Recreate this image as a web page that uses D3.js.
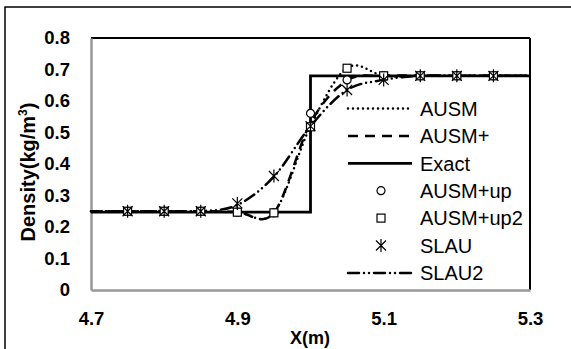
<!DOCTYPE html>
<html><head><meta charset="utf-8">
<script src="https://cdn.jsdelivr.net/npm/d3@7"></script>
<style>body{margin:0;background:#fff}svg{display:block}</style>
</head><body>
<svg id="c" width="571" height="349"></svg>
<script>
const xLine = [4.7,4.75,4.8,4.85,4.9,4.95,5.0,5.05,5.1,5.15,5.2,5.25,5.3];
const ausm      = [0.25,0.25,0.25,0.25,0.247,0.245,0.52,0.705,0.68,0.68,0.68,0.68,0.68];
const ausmPlus  = [0.25,0.25,0.25,0.25,0.248,0.245,0.53,0.665,0.68,0.68,0.68,0.68,0.68];
const slau2     = [0.25,0.25,0.25,0.25,0.27,0.36,0.52,0.635,0.667,0.68,0.68,0.68,0.68];
const xExact = [4.7,5.0,5.0,5.3];
const exact  = [0.247,0.247,0.68,0.68];
const xMark = [4.75,4.8,4.85,4.9,4.95,5.0,5.05,5.1,5.15,5.2,5.25];
const ausmUp  = [0.25,0.25,0.25,0.247,0.245,0.561,0.667,0.68,0.68,0.68,0.68];
const ausmUp2 = [0.25,0.25,0.25,0.247,0.245,0.518,0.704,0.68,0.68,0.68,0.68];
const slau    = [0.25,0.25,0.25,0.275,0.362,0.52,0.635,0.667,0.68,0.68,0.68];
const xTicks = [4.7,4.9,5.1,5.3];
const yTicks = [0,0.1,0.2,0.3,0.4,0.5,0.6,0.7,0.8];
const legendNames = ["AUSM","AUSM+","Exact","AUSM+up","AUSM+up2","SLAU","SLAU2"];

const svg = d3.select("#c");
const L=91,R=530,T=38,B=290;
const x = d3.scaleLinear().domain([4.7,5.3]).range([L,R]);
const y = d3.scaleLinear().domain([0,0.8]).range([B,T]);
const font = "'Liberation Sans', Arial, sans-serif";

svg.append("rect").attr("x",5).attr("y",7).attr("width",600).attr("height",400)
  .attr("fill","none").attr("stroke","#000").attr("stroke-width",1.5);

// frame
svg.append("line").attr("x1",L).attr("x2",R).attr("y1",T).attr("y2",T).attr("stroke","#000").attr("stroke-width",2);
svg.append("line").attr("x1",R).attr("x2",R).attr("y1",T).attr("y2",B).attr("stroke","#000").attr("stroke-width",2);

// axes
const yAxis = d3.axisLeft(y).tickValues(yTicks).tickSize(0).tickPadding(21).tickFormat(d=>d===0?"0":d3.format(".1f")(d));
const gy = svg.append("g").attr("transform",`translate(${L},0)`).call(yAxis);
gy.select(".domain").attr("stroke","#999").attr("stroke-width",2.5);
gy.selectAll("text").attr("font-family",font).attr("font-weight","bold").attr("font-size",18.5).attr("fill","#000");
const xAxis = d3.axisBottom(x).tickValues(xTicks).tickSize(0).tickPadding(22).tickFormat(d3.format(".1f"));
const gx = svg.append("g").attr("transform",`translate(0,${B})`).call(xAxis);
gx.select(".domain").attr("stroke","#999").attr("stroke-width",2.5);
gx.selectAll("text").attr("font-family",font).attr("font-weight","bold").attr("font-size",18.5).attr("fill","#000");

svg.append("text").attr("x",310).attr("y",344).attr("text-anchor","middle")
  .attr("font-family",font).attr("font-weight","bold").attr("font-size",18).text("X(m)");
const yl = svg.append("text").attr("transform","translate(35,172) rotate(-90)").attr("text-anchor","middle")
  .attr("font-family",font).attr("font-weight","bold").attr("font-size",20);
yl.append("tspan").text("Density(kg/m");
yl.append("tspan").attr("font-size",12).attr("dy",-8).text("3");
yl.append("tspan").attr("dy",8).text(")");

const styles = {
  AUSM:{dash:"0,5",w:2.5,cap:"round"},
  "AUSM+":{dash:"10,7",w:2.5,cap:"butt"},
  Exact:{dash:null,w:2.8,cap:"butt"},
  SLAU2:{dash:"11,5,0,5,0,5",w:2.5,cap:"round"}
};
const smooth = d3.line().x(d=>x(d[0])).y(d=>y(d[1])).curve(d3.curveCardinal.tension(0));
const straight = d3.line().x(d=>x(d[0])).y(d=>y(d[1]));
function drawLine(xs, vs, st, gen){
  svg.append("path").attr("d",gen(xs.map((v,i)=>[v,vs[i]]))).attr("fill","none")
    .attr("stroke","#000").attr("stroke-width",st.w).attr("stroke-dasharray",st.dash)
    .attr("stroke-linecap",st.cap);
}
drawLine(xExact, exact, styles.Exact, straight);
drawLine(xLine, slau2, styles.SLAU2, smooth);
drawLine(xLine, ausmPlus, styles["AUSM+"], smooth);
drawLine(xLine, ausm, styles.AUSM, smooth);

const star = "M-5,-5L5,5M-5,5L5,-5M0,-6.5L0,6.5";
function circ(g){g.append("circle").attr("r",4).attr("fill","#fff").attr("stroke","#000").attr("stroke-width",1.2);}
function sq(g){g.append("rect").attr("x",-4).attr("y",-4).attr("width",8).attr("height",8).attr("fill","#fff").attr("stroke","#000").attr("stroke-width",1.2);}
function st(g){g.append("path").attr("d",star).attr("fill","none").attr("stroke","#000").attr("stroke-width",1.2);}
function markers(vs, fn){
  xMark.forEach((xv,i)=>{ const g=svg.append("g").attr("transform",`translate(${x(xv)},${y(vs[i])})`); fn(g); });
}
markers(ausmUp, circ);
markers(ausmUp2, sq);
markers(slau, st);

// legend
const lx0=348, lx1=412, ly0=108.5, ldy=27.4;
legendNames.forEach((n,i)=>{
  const yy = ly0+i*ldy;
  if (styles[n]) {
    const s=styles[n];
    svg.append("line").attr("x1",lx0).attr("x2",lx1).attr("y1",yy).attr("y2",yy).attr("stroke","#000")
      .attr("stroke-width",s.w).attr("stroke-dasharray",s.dash).attr("stroke-linecap",s.cap);
  } else {
    const g=svg.append("g").attr("transform",`translate(381,${yy})`);
    if(n==="AUSM+up") circ(g); else if(n==="AUSM+up2") sq(g); else st(g);
  }
  svg.append("text").attr("x",420).attr("y",yy).attr("dy","0.36em").attr("font-family",font)
    .attr("font-size",20).text(n);
});
</script>
</body></html>
